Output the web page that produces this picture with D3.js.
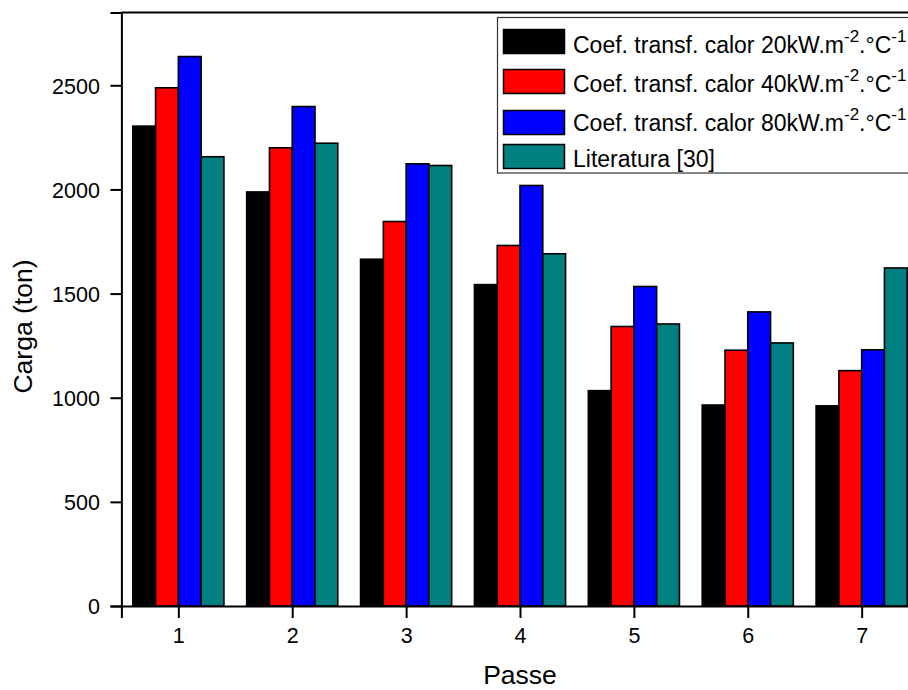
<!DOCTYPE html>
<html>
<head>
<meta charset="utf-8">
<script src="https://cdn.jsdelivr.net/npm/d3@7/dist/d3.min.js"></script>
<style>
  html, body { margin: 0; padding: 0; background: #fff; overflow: hidden; }
  svg { display: block; font-family: "Liberation Sans", Arial, sans-serif; }
</style>
</head>
<body>
<svg id="chart" width="908" height="690"></svg>
<script>
// Passes of the rolling schedule
const categories = [1, 2, 3, 4, 5, 6, 7];

// Load (ton) per pass for each heat transfer coefficient and the literature reference
const coef20 = [2304, 1988, 1665, 1543, 1034, 965, 961];
const coef40 = [2488, 2200, 1846, 1731, 1342, 1228, 1130];
const coef80 = [2638, 2398, 2123, 2019, 1534, 1412, 1230];
const literatura = [2157, 2222, 2115, 1691, 1354, 1263, 1623];

const seriesNames = ["coef20", "coef40", "coef80", "literatura"];
const seriesValues = [coef20, coef40, coef80, literatura];
const seriesColors = ["#000000", "#ff0000", "#0000ff", "#008080"];
const legendLabels = [
  { main: "Coef. transf. calor 20kW.m", sup1: "-2", mid: ".°C", sup2: "-1" },
  { main: "Coef. transf. calor 40kW.m", sup1: "-2", mid: ".°C", sup2: "-1" },
  { main: "Coef. transf. calor 80kW.m", sup1: "-2", mid: ".°C", sup2: "-1" },
  { main: "Literatura [30]" }
];

const yMajorTicks = [0, 500, 1000, 1500, 2000, 2500];
const yMinorTicks = [250, 750, 1250, 1750, 2250, 2750];
const xMinorTicks = [0.5, 1.5, 2.5, 3.5, 4.5, 5.5, 6.5, 7.5];

const xTitle = "Passe";
const yTitle = "Carga (ton)";

const svg = d3.select("#chart");

const x = d3.scaleLinear().domain([0.5, 7.5]).range([121.4, 918.6]);
const y = d3.scaleLinear().domain([0, 2850]).range([606, 12.4]);

// offset of each series inside a group, in category units
const sub = d3.scaleBand().domain(seriesNames).range([-0.4, 0.4]).paddingInner(0).paddingOuter(0);

const rows = [];
categories.forEach((c, ci) => {
  seriesNames.forEach((s, si) => {
    rows.push({ cat: c, key: s, value: seriesValues[si][ci], color: seriesColors[si] });
  });
});

// bars
svg.append("g").selectAll("rect")
  .data(rows)
  .join("rect")
  .attr("x", d => x(d.cat + sub(d.key)))
  .attr("width", d => x(d.cat + sub(d.key) + sub.bandwidth()) - x(d.cat + sub(d.key)))
  .attr("y", d => y(d.value))
  .attr("height", d => y(0) - y(d.value))
  .attr("fill", d => d.color)
  .attr("stroke", "#000")
  .attr("stroke-width", 1.6);

// frame (top and right)
svg.append("path")
  .attr("d", `M${x(0.5)},${y(2850)}H${x(7.5)}V${y(0)}`)
  .attr("fill", "none").attr("stroke", "#000").attr("stroke-width", 2);

// y axis
const yAxisG = svg.append("g").attr("transform", `translate(${x(0.5)},0)`);
yAxisG.call(d3.axisLeft(y).tickValues(yMinorTicks).tickSize(5).tickFormat(""));
yAxisG.call(d3.axisLeft(y).tickValues(yMajorTicks).tickSize(11).tickPadding(10.5).tickFormat(d3.format("d")));
yAxisG.selectAll("path.domain").attr("stroke-width", 2);
yAxisG.selectAll(".tick line").attr("stroke-width", 2);
yAxisG.selectAll("text")
  .attr("font-size", 21.5)
  .attr("font-family", "Liberation Sans, Arial, sans-serif")
  .attr("fill", "#000")
  .attr("dy", "0.36em");

// x axis
const xAxisG = svg.append("g").attr("transform", `translate(0,${y(0)})`);
xAxisG.call(d3.axisBottom(x).tickValues(xMinorTicks).tickSize(6).tickFormat(""));
xAxisG.call(d3.axisBottom(x).tickValues(categories).tickSize(12).tickPadding(10).tickFormat(d3.format("d")));
xAxisG.selectAll("path.domain").attr("stroke-width", 2);
xAxisG.selectAll(".tick line").attr("stroke-width", 2);
xAxisG.selectAll("text")
  .attr("font-size", 21.5)
  .attr("font-family", "Liberation Sans, Arial, sans-serif")
  .attr("fill", "#000");

// axis titles
svg.append("text")
  .attr("x", (x(1) + x(7)) / 2)
  .attr("y", 684)
  .attr("text-anchor", "middle")
  .attr("font-size", 26.5)
  .text(xTitle);

svg.append("text")
  .attr("transform", "translate(32,326.5) rotate(-90)")
  .attr("text-anchor", "middle")
  .attr("font-size", 26.5)
  .text(yTitle);

// legend
const legend = svg.append("g");
legend.append("rect")
  .attr("x", 497.5).attr("y", 17.5)
  .attr("width", 440).attr("height", 155.5)
  .attr("fill", "#fff").attr("stroke", "#333").attr("stroke-width", 1.2);

const swatchTops = [29.5, 69.5, 110.5, 144.5];
const baselines = [52.7, 91.7, 130.7, 166.7];

legendLabels.forEach((lab, i) => {
  legend.append("rect")
    .attr("x", 503.5).attr("y", swatchTops[i])
    .attr("width", 61).attr("height", 24)
    .attr("fill", seriesColors[i])
    .attr("stroke", "#000").attr("stroke-width", 1.5);

  const t = legend.append("text")
    .attr("x", 573).attr("y", baselines[i])
    .attr("font-size", 23);
  t.append("tspan").text(lab.main);
  if (lab.sup1) {
    t.append("tspan").attr("font-size", 17).attr("dy", -11).text(lab.sup1);
    t.append("tspan").attr("dy", 11).text(lab.mid);
    t.append("tspan").attr("font-size", 17).attr("dy", -11).text(lab.sup2);
  }
});
</script>
</body>
</html>
